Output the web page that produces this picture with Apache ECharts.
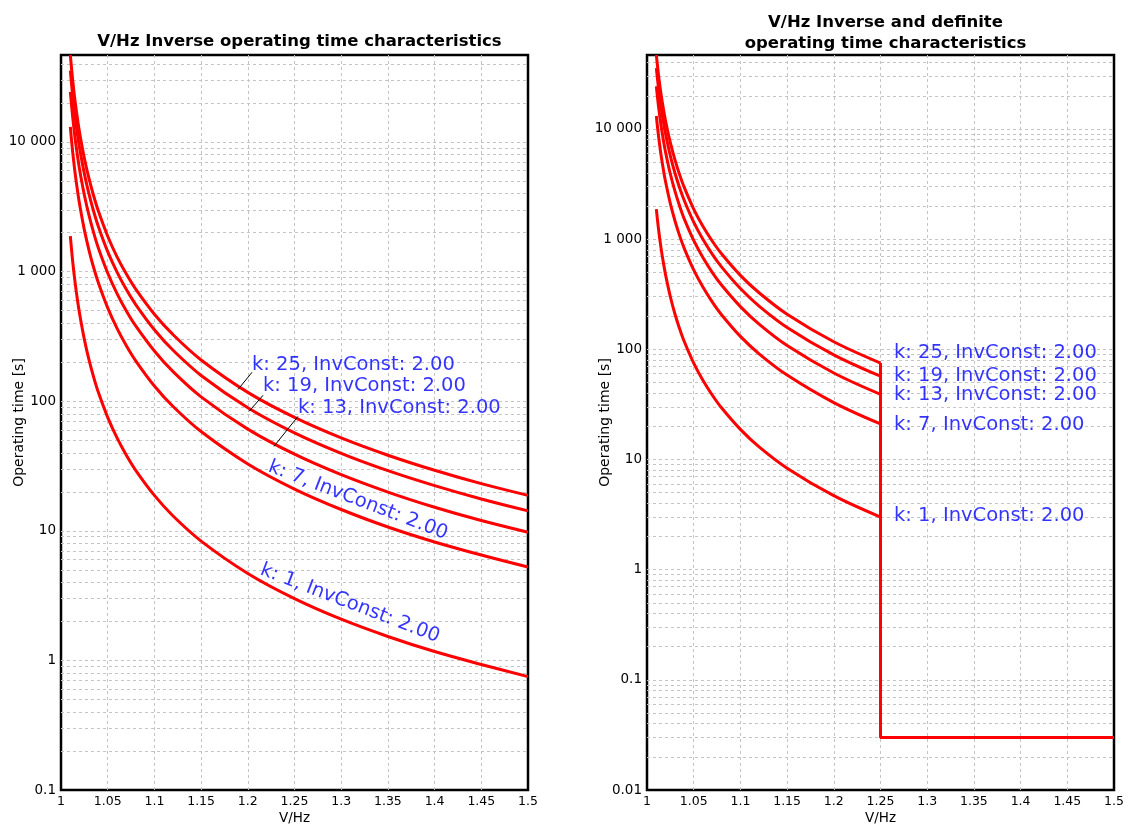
<!DOCTYPE html>
<html><head><meta charset="utf-8">
<script src="https://cdn.jsdelivr.net/npm/echarts@6/dist/echarts.min.js"></script>
<style>html,body{margin:0;padding:0;background:#fff}#c{width:1133px;height:825px}</style>
</head><body><div id="c"></div>
<script>
// V/Hz values at which the curves were read
const xValues = [1.01, 1.0125, 1.015, 1.0175, 1.02, 1.025, 1.03, 1.035, 1.04, 1.05, 1.06, 1.07, 1.08, 1.1, 1.12, 1.15, 1.2, 1.25, 1.3, 1.35, 1.4, 1.45, 1.5];
// operating times [s]
const timeK1  = [1875, 1200, 833, 612, 469, 300, 208, 153, 117, 75, 52.1, 38.3, 29.3, 18.75, 13.0, 8.33, 4.69, 3.0, 2.08, 1.53, 1.17, 0.93, 0.75];
const timeK7  = [13100, 8400, 5830, 4290, 3280, 2100, 1460, 1070, 820, 525, 365, 268, 205, 131, 91, 58.3, 32.8, 21.0, 14.6, 10.7, 8.2, 6.5, 5.25];
const timeK13 = [24400, 15600, 10800, 7960, 6090, 3900, 2710, 1990, 1520, 975, 677, 497, 381, 244, 169, 108, 60.9, 39.0, 27.1, 19.9, 15.2, 12.0, 9.75];
const timeK19 = [35600, 22800, 15800, 11600, 8910, 5700, 3960, 2910, 2230, 1425, 990, 727, 557, 356, 247, 158, 89.1, 57.0, 39.6, 29.1, 22.3, 17.6, 14.25];
const timeK25 = [46900, 30000, 20800, 15300, 11700, 7500, 5210, 3830, 2930, 1875, 1300, 957, 732, 469, 326, 208, 117, 75.0, 52.1, 38.3, 29.3, 23.1, 18.75];
const seriesNames = ['k: 1, InvConst: 2.00', 'k: 7, InvConst: 2.00', 'k: 13, InvConst: 2.00', 'k: 19, InvConst: 2.00', 'k: 25, InvConst: 2.00'];
const seriesTimes = [timeK1, timeK7, timeK13, timeK19, timeK25];
// definite time part (right chart)
const definiteStart = 1.25;
const definiteTime = 0.03;
const definiteEnd = 1.5;
// annotation anchors (data coordinates)
const leftStraightLabels = [
  {text: 'k: 25, InvConst: 2.00', at: [1.2045, 192]},
  {text: 'k: 19, InvConst: 2.00', at: [1.2163, 132]},
  {text: 'k: 13, InvConst: 2.00', at: [1.2537, 88]}
];
const leftRotatedLabels = [
  {text: 'k: 7, InvConst: 2.00', at: [1.318, 17.2]},
  {text: 'k: 1, InvConst: 2.00', at: [1.3094, 2.75]}
];
const leaderLines = [
  [[1.1895, 123], [1.2045, 167]],
  [[1.2013, 83.4], [1.2163, 111]],
  [[1.228, 44.8], [1.2537, 76.3]]
];
const rightLabels = [
  {text: 'k: 25, InvConst: 2.00', at: [1.2645, 92]},
  {text: 'k: 19, InvConst: 2.00', at: [1.2645, 56.8]},
  {text: 'k: 13, InvConst: 2.00', at: [1.2645, 38.2]},
  {text: 'k: 7, InvConst: 2.00', at: [1.2645, 20.4]},
  {text: 'k: 1, InvConst: 2.00', at: [1.2645, 3.1]}
];
const xTickLabelsStep = 0.05;
const yMaxLeft = 46900, yMinLeft = 0.1;
const yMaxRight = 46900, yMinRight = 0.01;
const minorMultipliers = [2, 3, 4, 5, 6, 7, 8, 9];

const FONT = 'DejaVu Sans';
const GRIDC = '#c4c4c4';

function fmtY(v) {
  const l = Math.log10(v), e = Math.round(l);
  if (Math.abs(l - e) > 1e-6) return '';
  if (e >= 3) return String(Math.pow(10, e)).replace(/\B(?=(\d{3})+(?!\d))/g, ' ');
  if (e < 0) return Math.pow(10, e).toFixed(-e);
  return String(Math.pow(10, e));
}
function minorLines(min, max) {
  const out = [];
  for (let e = Math.floor(Math.log10(min)); e <= Math.ceil(Math.log10(max)); e++) {
    minorMultipliers.forEach(m => {
      const v = m * Math.pow(10, e);
      if (v > min && v < max) out.push({yAxis: v});
    });
  }
  return out;
}
function xAxisCfg(idx) {
  return {
    type: 'value', gridIndex: idx, min: 1, max: 1.5, interval: xTickLabelsStep,
    name: 'V/Hz', nameLocation: 'middle', nameGap: 21, nameMoveOverlap: false,
    nameTextStyle: {fontFamily: FONT, fontSize: 13.5, color: '#000'},
    axisLine: {show: false}, axisTick: {show: false},
    axisLabel: {fontFamily: FONT, fontSize: 12.5, color: '#000', margin: 5,
      formatter: v => String(+(+v).toFixed(2))},
    splitLine: {show: true, showMinLine: false, showMaxLine: false, lineStyle: {color: GRIDC, type: [3, 3], width: 1}}
  };
}
function yAxisCfg(idx, min, max) {
  return {
    type: 'log', logBase: 10, gridIndex: idx, min: min, max: max,
    name: 'Operating time [s]', nameLocation: 'middle', nameGap: 35, nameMoveOverlap: false,
    nameTextStyle: {fontFamily: FONT, fontSize: 14, color: '#000'},
    axisLine: {show: false}, axisTick: {show: false},
    axisLabel: {fontFamily: FONT, fontSize: 13.5, color: '#000', margin: 5, showMaxLabel: false, formatter: fmtY},
    splitLine: {show: true, showMinLine: false, showMaxLine: false, lineStyle: {color: GRIDC, type: [3, 3], width: 1}}
  };
}
const curveStyle = {color: '#ff0000', width: 3};
const series = [];
// minor grid helpers
[[0, yMinLeft, yMaxLeft], [1, yMinRight, yMaxRight]].forEach(([i, mn, mx]) => {
  series.push({type: 'line', xAxisIndex: i, yAxisIndex: i, data: [], z: 1, silent: true,
    markLine: {silent: true, symbol: ['none', 'none'], label: {show: false}, z: 1,
      lineStyle: {color: GRIDC, type: [3, 3], width: 1}, emphasis: {disabled: true},
      data: minorLines(mn, mx)}});
});
// left curves
seriesTimes.forEach((t, j) => {
  series.push({type: 'line', name: seriesNames[j], xAxisIndex: 0, yAxisIndex: 0, z: 3,
    showSymbol: false, smooth: 0.35, lineStyle: curveStyle, itemStyle: {color: '#ff0000'},
    data: xValues.map((x, i) => [x, t[i]])});
});
// right curves (inverse up to definite start)
seriesTimes.forEach((t, j) => {
  series.push({type: 'line', name: seriesNames[j] + ' (R)', xAxisIndex: 1, yAxisIndex: 1, z: 3,
    showSymbol: false, smooth: 0.35, lineStyle: curveStyle, itemStyle: {color: '#ff0000'},
    data: xValues.map((x, i) => [x, t[i]]).filter(p => p[0] <= definiteStart + 1e-9)});
});
// definite time part
const topAtStart = timeK25[xValues.indexOf(definiteStart)];
series.push({type: 'line', xAxisIndex: 1, yAxisIndex: 1, z: 3, showSymbol: false,
  lineStyle: curveStyle, itemStyle: {color: '#ff0000'},
  data: [[definiteStart, topAtStart], [definiteStart, definiteTime], [definiteEnd, definiteTime]]});
// leader lines
leaderLines.forEach(seg => {
  series.push({type: 'line', xAxisIndex: 0, yAxisIndex: 0, z: 4, showSymbol: false, silent: true,
    lineStyle: {color: '#000', width: 1}, data: seg});
});
const labelText = {fontFamily: FONT, fontSize: 19.5, color: '#0000ff'};
// annotations
series.push({type: 'scatter', xAxisIndex: 0, yAxisIndex: 0, z: 5, symbolSize: 0, silent: true,
  data: leftStraightLabels.map(a => ({value: a.at, label: Object.assign({show: true, formatter: a.text,
    position: 'right', distance: 0, align: 'left', verticalAlign: 'middle'}, labelText)}))
    .concat(leftRotatedLabels.map(a => ({value: a.at, label: Object.assign({show: true, formatter: a.text,
    position: 'inside', rotate: -21, align: 'center', verticalAlign: 'middle'}, labelText)})))});
series.push({type: 'scatter', xAxisIndex: 1, yAxisIndex: 1, z: 5, symbolSize: 0, silent: true,
  data: rightLabels.map(a => ({value: a.at, label: Object.assign({show: true, formatter: a.text,
    position: 'right', distance: 0, align: 'left', verticalAlign: 'middle'}, labelText)}))});

const chart = echarts.init(document.getElementById('c'), null, {renderer: 'canvas'});
chart.setOption({
  backgroundColor: '#fff',
  animation: false,
  title: [
    {text: 'V/Hz Inverse operating time characteristics', left: 294.5, top: 28, textAlign: 'center',
      textStyle: {fontFamily: FONT, fontSize: 16.5, fontWeight: 'bold', color: '#000'}},
    {text: 'V/Hz Inverse and definite\noperating time characteristics', left: 880.5, top: 7, textAlign: 'center',
      textStyle: {fontFamily: FONT, fontSize: 16.5, fontWeight: 'bold', color: '#000', lineHeight: 21}}
  ],
  grid: [
    {left: 61, top: 55, width: 467, height: 735, show: true, borderColor: '#000', borderWidth: 2.5, backgroundColor: 'transparent', outerBoundsMode: 'none', containLabel: false},
    {left: 647, top: 55, width: 467, height: 735, show: true, borderColor: '#000', borderWidth: 2.5, backgroundColor: 'transparent', outerBoundsMode: 'none', containLabel: false}
  ],
  xAxis: [xAxisCfg(0), xAxisCfg(1)],
  yAxis: [yAxisCfg(0, yMinLeft, yMaxLeft), yAxisCfg(1, yMinRight, yMaxRight)],
  series: series
});
</script></body></html>
